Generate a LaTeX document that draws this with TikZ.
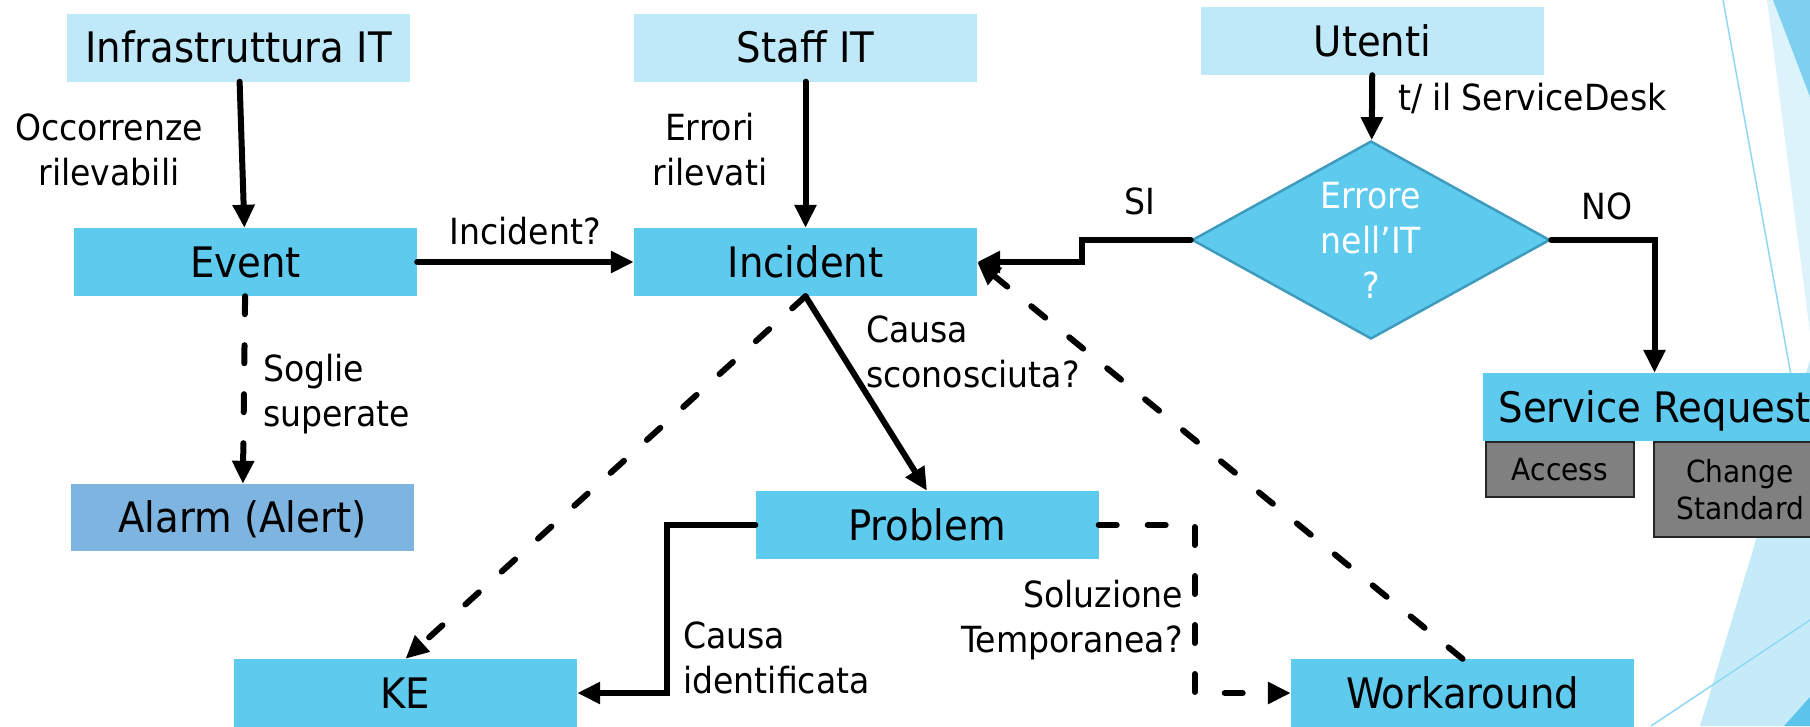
\documentclass[tikz,border=0pt]{standalone}
\usepackage{fontspec}
\setmainfont{DejaVu Sans}[FakeStretch=0.92]
\usetikzlibrary{arrows.meta,shapes.geometric}

\definecolor{boxlight}{HTML}{BFE9F8}
\definecolor{boxmain}{HTML}{5ECAEE}
\definecolor{boxalarm}{HTML}{7DB4E0}
\definecolor{diaborder}{HTML}{3E9BBE}
\definecolor{boxgray}{HTML}{808080}
\definecolor{decolight}{HTML}{DDF3FB}
\definecolor{decomid}{HTML}{C5EBF8}
\definecolor{decostrong}{HTML}{7DD0EF}
\definecolor{decoline}{HTML}{8FD8F3}
\definecolor{decodark}{HTML}{5CC4EB}

\newcommand\mainboxfont{\fontsize{42}{49}\selectfont}
\newcommand\lblfont{\fontsize{36}{45}\selectfont}
\newcommand\grayfont{\fontsize{30.5}{37}\selectfont}

\begin{document}
\begin{tikzpicture}[x=1pt,y=-1pt,
  box/.style={rectangle, minimum width=343pt, minimum height=68pt, inner sep=0pt,
    text height=30pt, text depth=0pt, font=\mainboxfont},
  srcbox/.style={box, fill=boxlight},
  procbox/.style={box, fill=boxmain},
  graybox/.style={rectangle, fill=boxgray, draw=black!85, line width=1.5pt,
    inner sep=0pt, font=\grayfont, align=center},
  lbl/.style={font=\lblfont, inner sep=0pt},
  conn/.style={line width=6pt, line cap=round, line join=miter,
    -{Triangle[length=23pt,width=21pt]}},
  dconn/.style={conn, dash pattern=on 18pt off 31pt}]

\useasboundingbox (0,0) rectangle (1810,726);

% background ornaments on the right edge
\fill[decolight] (1767,0) -- (1810,0) -- (1810,333) -- cycle;
\fill[decostrong] (1773,0) -- (1810,0) -- (1810,97) -- cycle;
\fill[decomid] (1700,726) -- (1810,360) -- (1810,726) -- cycle;
\fill[decodark] (1784,726) -- (1810,697) -- (1810,726) -- cycle;
\draw[decoline, line width=1.5pt] (1723,0) -- (1810,480);
\draw[decoline, line width=1.5pt] (1651,726) -- (1810,620);

% sources
\node[srcbox] (infra)  at (238.5,47.5) {Infrastruttura IT};
\node[srcbox] (staff)  at (805.5,47.5) {Staff IT};
\node[srcbox] (utenti) at (1372.5,41)  {Utenti};

% process boxes
\node[procbox] (event)      at (245.5,262) {Event};
\node[procbox] (incident)   at (805.5,262) {Incident};
\node[box, fill=boxalarm, minimum height=67pt] (alarm) at (242.5,517.5) {Alarm (Alert)};
\node[procbox] (problem)    at (927,525)   {Problem};
\node[procbox] (ke)         at (405.5,693) {KE};
\node[procbox] (workaround) at (1462.5,693) {Workaround};

% decision
\node[diamond, shape aspect=1.8, minimum width=358pt, minimum height=198pt,
  inner sep=0pt, fill=boxmain, draw=diaborder, line width=2.5pt,
  text=white, font=\lblfont, align=center] (dia) at (1371,240)
  {Errore\\nell’IT\\?};

% service request with its two kinds
\node[graybox, minimum width=148pt, minimum height=55pt, text height=22pt, text depth=0pt]
  (access) at (1560,469.5) {Access};
\node[graybox, minimum width=172pt, minimum height=95pt] (change) at (1740,489.5)
  {Change\\Standard};
\node[procbox] (servreq) at (1654.5,407) {Service Request};

% connectors
\draw[conn] (infra) -- (event);
\draw[conn] (staff) -- (incident);
\draw[conn] (event) -- (incident);
\draw[dconn] (event) -- (alarm);
\draw[conn] (utenti) -- (dia);
\draw[conn] (dia.west) -- ++(-109,0) |- (incident.east);
\draw[conn] (dia.east) -| (servreq.north);
\draw[conn] (incident.south) -- (problem.north);
\draw[dconn] (incident.south) -- (ke.north);
\draw[conn] (problem.west) -- ++(-88,0) |- (ke.east);
\draw[dconn] (problem.east) -- ++(96,0) |- (workaround.west);
\draw[dconn] (workaround.north) -- (incident.east);

% connector labels
\node[lbl, align=center] (lOcc) at (109,149.5) {Occorrenze\\rilevabili};
\node[lbl, align=center] (lErr) at (710,150) {Errori\\rilevati};
\node[lbl, anchor=base] (lInc) at (525,244) {Incident?};
\node[lbl, anchor=west, align=left] (lSog) at (263,394.5) {Soglie\\superate};
\node[lbl, anchor=base west] (lDesk) at (1398,110) {t/ il ServiceDesk};
\node[lbl, anchor=base] (lSi) at (1140,214) {SI};
\node[lbl, anchor=base] (lNo) at (1607,219) {NO};
\node[lbl, anchor=west, align=left] (lSco) at (866,351.5) {Causa\\sconosciuta?};
\node[lbl, anchor=west, align=left] (lIde) at (683,657.5) {Causa\\identificata};
\node[lbl, anchor=east, align=right] (lSol) at (1183,620.5) {Soluzione\\Temporanea?};

\end{tikzpicture}
\end{document}
